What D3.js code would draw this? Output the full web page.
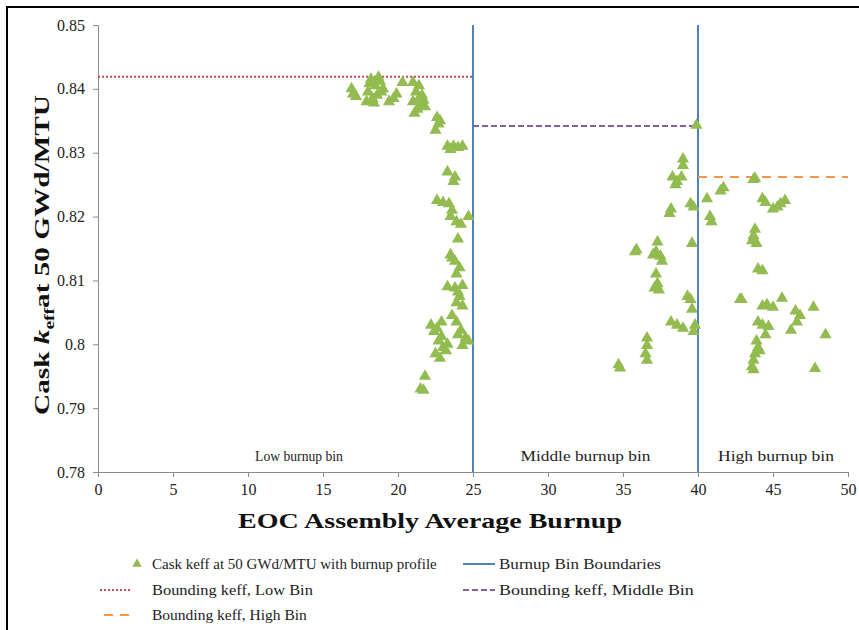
<!DOCTYPE html>
<html>
<head>
<meta charset="utf-8">
<script src="https://cdn.jsdelivr.net/npm/d3@7"></script>
<style>
  body { margin: 0; background: #fff; }
  text { font-family: "Liberation Serif", "Times New Roman", serif; }
</style>
</head>
<body>
<div id="chart"></div>
<script>
// points: [EOC burnup, cask keff]
const lowBin = [
  [16.9, 0.8400], [17.2, 0.8388], [17.0, 0.8392], [18.2, 0.8415], [18.5, 0.8405], [18.0, 0.8395],
  [18.3, 0.8385], [18.8, 0.8412], [19.0, 0.8400], [18.6, 0.8390], [17.9, 0.8380],
  [18.4, 0.8378], [18.7, 0.8418], [18.1, 0.8408], [18.9, 0.8395],
  [20.3, 0.8410], [19.7, 0.8385], [19.4, 0.8380], [19.9, 0.8392], [21.0, 0.8410], [21.4, 0.8405],
  [21.2, 0.8395], [21.6, 0.8390], [21.0, 0.8380], [21.5, 0.8375], [21.3, 0.8368],
  [21.8, 0.8372], [21.1, 0.8362], [21.7, 0.8382], [21.4, 0.8385],
  [22.6, 0.8355], [22.7, 0.8345], [22.5, 0.8335], [22.8, 0.8350],
  [23.3, 0.8310], [23.7, 0.8310], [24.0, 0.8308], [24.3, 0.8310], [23.5, 0.8305], [23.3, 0.8270],
  [23.7, 0.8255], [23.8, 0.8262], [22.6, 0.8225], [23.0, 0.8222], [23.4, 0.8220],
  [23.6, 0.8210], [23.5, 0.8200], [23.9, 0.8192], [24.2, 0.8188], [24.7, 0.8200],
  [24.0, 0.8165], [23.5, 0.8140], [23.8, 0.8130], [24.1, 0.8120], [23.9, 0.8110],
  [23.6, 0.8135], [23.3, 0.8090], [23.8, 0.8088], [24.3, 0.8092], [24.1, 0.8075], [23.9, 0.8065],
  [24.3, 0.8060], [24.0, 0.8082], [23.6, 0.8045], [23.9, 0.8035], [22.2, 0.8030], [22.6, 0.8025],
  [22.9, 0.8035], [22.4, 0.8020], [22.7, 0.8005], [23.0, 0.7995], [23.3, 0.8000],
  [22.5, 0.7985], [22.8, 0.7978], [23.2, 0.7990], [22.9, 0.8012], [24.0, 0.8015], [24.5, 0.8010],
  [24.3, 0.7998], [24.7, 0.8005], [24.2, 0.8022], [21.8, 0.7950], [21.5, 0.7930], [21.7, 0.7928]
];
const middleBin = [
  [39.9, 0.8343], [39.0, 0.8290], [39.0, 0.8280], [38.3, 0.8262], [38.6, 0.8255],
  [38.9, 0.8262], [38.5, 0.8250], [38.1, 0.8205], [38.2, 0.8212], [39.5, 0.8220], [39.7, 0.8215],
  [39.6, 0.8158], [35.8, 0.8145], [35.9, 0.8148], [37.3, 0.8160], [37.2, 0.8145],
  [37.5, 0.8138], [37.6, 0.8130], [37.0, 0.8140], [37.2, 0.8110], [37.3, 0.8095], [37.1, 0.8088],
  [37.4, 0.8085], [39.3, 0.8075], [39.5, 0.8070], [39.6, 0.8055], [38.2, 0.8035],
  [38.6, 0.8030], [39.0, 0.8025], [39.8, 0.8030], [39.7, 0.8020], [36.6, 0.8010],
  [36.6, 0.7998], [36.5, 0.7985], [36.6, 0.7975], [34.7, 0.7968], [34.8, 0.7963]
];
const highBin = [
  [43.7, 0.8258], [43.8, 0.8260], [41.5, 0.8240], [41.7, 0.8245], [40.6, 0.8228],
  [40.8, 0.8200], [40.9, 0.8192], [44.3, 0.8228], [44.5, 0.8222], [45.3, 0.8215],
  [45.5, 0.8220], [45.0, 0.8212], [45.8, 0.8225], [43.8, 0.8180], [43.7, 0.8170],
  [43.6, 0.8162], [43.9, 0.8158], [44.0, 0.8118], [44.3, 0.8115], [42.8, 0.8070],
  [42.9, 0.8070], [45.6, 0.8072], [44.3, 0.8060], [44.6, 0.8062], [45.0, 0.8058],
  [46.5, 0.8052], [46.8, 0.8045], [46.6, 0.8035], [47.7, 0.8058], [46.2, 0.8022],
  [44.0, 0.8035], [44.3, 0.8030], [44.7, 0.8028], [44.5, 0.8015], [43.9, 0.8005],
  [44.0, 0.7995], [43.8, 0.7985], [43.7, 0.7975], [43.6, 0.7965], [43.7, 0.7960],
  [44.1, 0.7990], [48.5, 0.8015], [47.8, 0.7962]
];
const binEdges = [25, 40];
const bounds = [
  {name: "Low", from: 0, to: 25, keff: 0.8419},
  {name: "Middle", from: 25, to: 40, keff: 0.8342},
  {name: "High", from: 40, to: 50, keff: 0.8262}
];
const binLabels = [
  {text: "Low burnup bin", at: 13.4, len: 88, size: 15},
  {text: "Middle burnup bin", at: 32.5, len: 130, size: 15},
  {text: "High burnup bin", at: 45.2, len: 116, size: 15}
];
const xTicks = [0, 5, 10, 15, 20, 25, 30, 35, 40, 45, 50];
const yTicks = [0.78, 0.79, 0.80, 0.81, 0.82, 0.83, 0.84, 0.85];

const W = 859, H = 630;
const margin = {top: 25, right: 11, bottom: 158, left: 98},
      width = W - margin.left - margin.right,
      height = H - margin.top - margin.bottom;

const green = "#92bb50", blue = "#4f81bd", red = "#c0504d",
      purple = "#8064a2", orange = "#f79646", axisGrey = "#8c8c8c";

// text that is stretched sideways to a given width (the source picture is widened)
function stretchText(parent, tx, ty, target, anchor, extra) {
  const g = parent.append("g");
  const t = g.append("text").attr("text-anchor", anchor);
  if (extra) extra(t);
  const w = t.node().getComputedTextLength();
  const s = w > 0 ? target / w : 1;
  g.attr("transform", `translate(${tx}, ${ty}) ${extra && extra.rot ? "rotate(-90)" : ""} scale(${s}, 1)`);
  return t;
}

const root = d3.select("#chart").append("svg")
    .attr("width", W)
    .attr("height", H);

// frame around the figure
root.append("rect")
    .attr("x", 7).attr("y", 7)
    .attr("width", 900).attr("height", 700)
    .attr("fill", "none")
    .attr("stroke", "#000")
    .attr("stroke-width", 2);

const svg = root.append("g")
    .attr("transform", `translate(${margin.left}, ${margin.top})`);

const x = d3.scaleLinear().domain([0, 50]).range([0, width]);
const y = d3.scaleLinear().domain([0.78, 0.85]).range([height, 0]);

// X axis
const xAxis = svg.append("g")
    .attr("transform", `translate(0, ${height})`)
    .call(d3.axisBottom(x).tickValues(xTicks).tickSize(5).tickPadding(7));

// Y axis
const yAxis = svg.append("g")
    .call(d3.axisLeft(y).tickValues(yTicks).tickSize(5).tickPadding(8)
      .tickFormat(d => d3.format("")(+d.toFixed(2))));

[xAxis, yAxis].forEach(a => {
  a.attr("font-family", null);
  a.selectAll("path, line").attr("stroke", axisGrey);
  a.selectAll("text").attr("fill", "#222").style("font-size", "16px")
    .style("font-family", "'Liberation Serif', serif");
});

// bin boundaries
svg.append("g").selectAll("line")
  .data(binEdges)
  .join("line")
    .attr("x1", d => x(d)).attr("x2", d => x(d))
    .attr("y1", 0).attr("y2", height)
    .attr("stroke", blue).attr("stroke-width", 2);

// bounding keff lines
const boundStyle = {
  Low: {color: red, dash: "2,2"},
  Middle: {color: purple, dash: "6,3"},
  High: {color: orange, dash: "9,7"}
};
svg.append("g").selectAll("line")
  .data(bounds)
  .join("line")
    .attr("x1", d => x(d.from)).attr("x2", d => x(d.to))
    .attr("y1", d => y(d.keff)).attr("y2", d => y(d.keff))
    .attr("stroke", d => boundStyle[d.name].color)
    .attr("stroke-dasharray", d => boundStyle[d.name].dash)
    .attr("stroke-width", 2);

// bin labels
binLabels.forEach(d => {
  stretchText(svg, x(d.at), y(0.7818), d.len, "middle", t =>
    t.style("font-size", d.size + "px").attr("fill", "#222").text(d.text));
});

// triangles
const tri = d3.symbol().type(d3.symbolTriangle).size(64);
svg.append("g").selectAll("path")
  .data(lowBin.concat(middleBin, highBin))
  .join("path")
    .attr("d", tri)
    .attr("transform", d => `translate(${x(d[0])}, ${y(d[1])})`)
    .attr("fill", green);

// axis titles
stretchText(svg, 332, height + 56, 384, "middle", t =>
  t.style("font-size", "21px").style("font-weight", "bold")
   .attr("fill", "#111").text("EOC Assembly Average Burnup"));

const yTitleFill = t => {
  t.style("font-size", "21px").style("font-weight", "bold").attr("fill", "#111");
  t.append("tspan").text("Cask ");
  t.append("tspan").style("font-style", "italic").text("k");
  t.append("tspan").attr("dy", 5).style("font-size", "14px").text("eff");
  t.append("tspan").attr("dy", -5).text("at 50 GWd/MTU");
};
yTitleFill.rot = true;
stretchText(svg, -49, 230, 320, "middle", yTitleFill);

// legend
const legend = root.append("g");
const legendItems = [
  {label: "Cask keff at 50 GWd/MTU with burnup profile", len: 285, type: "tri", lx: 100, tx: 152, ly: 564},
  {label: "Burnup Bin Boundaries", len: 162, type: "line", color: blue, dash: null, lx: 463, tx: 499, ly: 564},
  {label: "Bounding keff, Low Bin", len: 161, type: "line", color: red, dash: "2,2", lx: 100, tx: 152, ly: 590},
  {label: "Bounding keff, Middle Bin", len: 195, type: "line", color: purple, dash: "6,3", lx: 463, tx: 499, ly: 590},
  {label: "Bounding keff, High Bin", len: 155, type: "line", color: orange, dash: "9,7", lx: 104, tx: 152, ly: 615}
];
legendItems.forEach(d => {
  if (d.type === "tri") {
    legend.append("path")
      .attr("d", d3.symbol().type(d3.symbolTriangle).size(40))
      .attr("transform", `translate(137, ${d.ly})`)
      .attr("fill", green);
  } else {
    legend.append("line")
      .attr("x1", d.lx).attr("x2", d.lx + 32)
      .attr("y1", d.ly).attr("y2", d.ly)
      .attr("stroke", d.color)
      .attr("stroke-width", 2)
      .attr("stroke-dasharray", d.dash);
  }
  stretchText(legend, d.tx, d.ly + 5, d.len, "start", t =>
    t.style("font-size", "15px").attr("fill", "#222").text(d.label));
});
</script>
</body>
</html>
